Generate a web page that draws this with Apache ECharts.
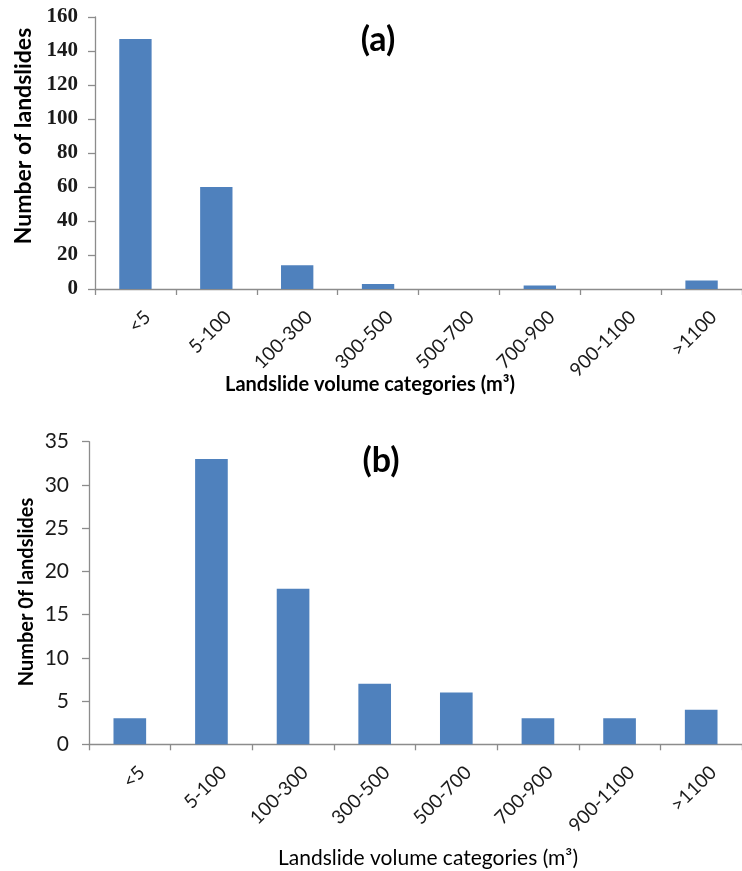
<!DOCTYPE html>
<html>
<head>
<meta charset="utf-8">
<script src="https://cdn.jsdelivr.net/npm/echarts@6/dist/echarts.min.js"></script>
<style>
  html, body { margin: 0; padding: 0; background: #fff; }
  #chart { width: 742px; height: 871px; }
</style>
</head>
<body>
<div id="chart"></div>
<script>
// Landslide volume classes shared by both panels
const categories = ['<5', '5-100', '100-300', '300-500', '500-700', '700-900', '900-1100', '>1100'];

// Panel (a): counts per volume class
const countsA = [147, 60, 14, 3, 0, 2, 0, 5];
const yTicksA = { min: 0, max: 160, interval: 20 };

// Panel (b): counts per volume class
const countsB = [3, 33, 18, 7, 6, 3, 3, 4];
const yTicksB = { min: 0, max: 35, interval: 5 };

const barColor = '#4F81BD';
const axisColor = '#8c8c8c';
const sans = 'Lato, "Liberation Sans", sans-serif';

function catAxis(gridIndex) {
  return {
    type: 'category',
    gridIndex: gridIndex,
    data: categories,
    axisLine: { lineStyle: { color: axisColor, width: 1.3 } },
    axisTick: { show: true, length: 6, lineStyle: { color: axisColor, width: 1.3 } },
    axisLabel: {
      rotate: 45, fontSize: 19, color: '#1a1a1a', fontFamily: sans,
      margin: 13, interval: 0, verticalAlign: 'top', lineHeight: 34
    }
  };
}

function valAxis(gridIndex, t, fontFamily, fontWeight, fontSize, margin) {
  return {
    type: 'value',
    gridIndex: gridIndex,
    min: t.min, max: t.max, interval: t.interval,
    splitLine: { show: false },
    axisLine: { show: true, lineStyle: { color: axisColor, width: 1.3 } },
    axisTick: { show: true, length: 7, lineStyle: { color: axisColor, width: 1.3 } },
    axisLabel: { fontSize: fontSize, color: '#1a1a1a', fontFamily: fontFamily, fontWeight: fontWeight, margin: margin }
  };
}

const chart = echarts.init(document.getElementById('chart'), null, { renderer: 'canvas' });

chart.setOption({
  animation: false,
  backgroundColor: '#ffffff',
  grid: [
    { left: 95, top: 17, width: 656, height: 272 },
    { left: 89, top: 441.7, width: 666, height: 302.6 }
  ],
  xAxis: [catAxis(0), catAxis(1)],
  yAxis: [
    valAxis(0, yTicksA, '"Liberation Serif", serif', 'bold', 21, 17),
    valAxis(1, yTicksB, sans, 'normal', 21, 20)
  ],
  series: [
    { type: 'bar', xAxisIndex: 0, yAxisIndex: 0, data: countsA, barWidth: '40%', itemStyle: { color: barColor } },
    { type: 'bar', xAxisIndex: 1, yAxisIndex: 1, data: countsB, barWidth: '40%', itemStyle: { color: barColor } }
  ],
  graphic: [
    { type: 'text', x: 378, y: 40, style: { text: '(a)', font: 'bold 34px ' + sans, fill: '#000', align: 'center', verticalAlign: 'middle' } },
    { type: 'text', x: 381, y: 461, style: { text: '(b)', font: 'bold 34px ' + sans, fill: '#000', align: 'center', verticalAlign: 'middle' } },
    {
      type: 'text', x: 24, y: 136, rotation: Math.PI / 2,
      style: { text: 'Number of landslides', font: 'bold 23px ' + sans, fill: '#000', align: 'center', verticalAlign: 'middle' }
    },
    {
      type: 'text', x: 27, y: 592, rotation: Math.PI / 2,
      style: { text: 'Number 0f landslides', font: 'bold 20px ' + sans, fill: '#000', align: 'center', verticalAlign: 'middle' }
    },
    {
      type: 'text', x: 370, y: 385,
      style: { text: 'Landslide volume categories (m\u00B3)', font: 'bold 20px ' + sans, fill: '#000', align: 'center', verticalAlign: 'middle' }
    },
    {
      type: 'text', x: 428, y: 858,
      style: { text: 'Landslide volume categories (m\u00B3)', font: '21px ' + sans, fill: '#000', align: 'center', verticalAlign: 'middle' }
    }
  ]
});
</script>
</body>
</html>
